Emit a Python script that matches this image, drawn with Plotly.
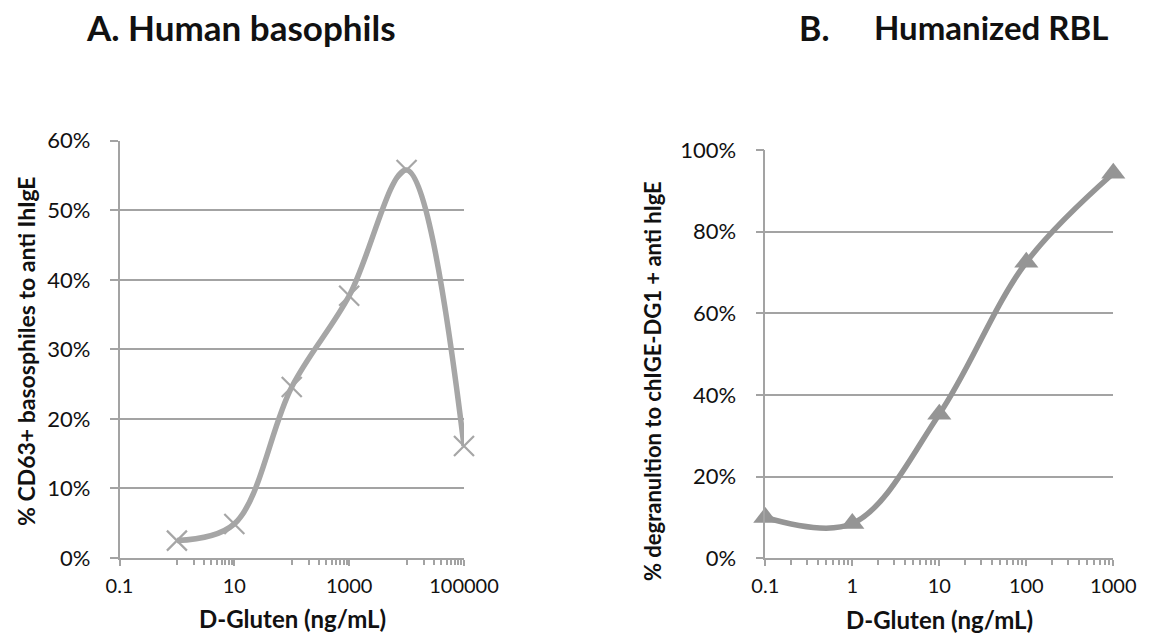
import plotly.graph_objects as go

# Panel A: human basophils, CD63+ response vs D-gluten dose
conc_a = [1, 10, 100, 1000, 10000, 100000]
cd63_a = [0.025, 0.049, 0.246, 0.377, 0.558, 0.161]
xticks_a = [0.1, 10, 1000, 100000]
xticklabels_a = ["0.1", "10", "1000", "100000"]

# Panel B: humanized RBL cells, degranulation vs D-gluten dose
conc_b = [0.1, 1, 10, 100, 1000]
degran_b = [0.100, 0.085, 0.353, 0.725, 0.943]
xticks_b = [0.1, 1, 10, 100, 1000]
xticklabels_b = ["0.1", "1", "10", "100", "1000"]

W, H = 1151, 636
FONT = "Lato"
TXT = "#111111"
GRID = "#a3a3a3"


def px_x(p):
    return p / W


def px_y(p):
    return 1 - p / H


fig = go.Figure()

fig.add_trace(go.Scatter(
    x=conc_a, y=cd63_a, mode="lines+markers", cliponaxis=False,
    line=dict(color="#a6a6a6", width=5.5, shape="spline", smoothing=1),
    marker=dict(symbol="x-thin-open", size=20,
                line=dict(color="#a6a6a6", width=2.2), color="#a6a6a6"),
    xaxis="x", yaxis="y", showlegend=False,
))

fig.add_trace(go.Scatter(
    x=conc_b, y=degran_b, mode="lines+markers", cliponaxis=False,
    line=dict(color="#959595", width=5.5, shape="spline", smoothing=1),
    marker=dict(symbol="triangle-up", size=21, color="#959595"),
    xaxis="x2", yaxis="y2", showlegend=False,
))

# minor ticks: 1..9 steps inside every other decade (A), 2..9 in each decade (B)
minor_a = [k * 10 ** d for d in (0, 2, 4) for k in range(1, 10)]
minor_b = [k * 10 ** d for d in range(-1, 3) for k in range(2, 10)]

common_x = dict(
    type="log", showgrid=False, zeroline=False, automargin=False,
    showline=True, linecolor=GRID, linewidth=1.5,
    ticks="outside", ticklen=6, tickcolor=GRID, tickwidth=1.5,
    tickfont=dict(family=FONT, size=20, color=TXT),
    ticklabelstandoff=3,
)
common_y = dict(
    showgrid=True, gridcolor=GRID, gridwidth=1.5, zeroline=False, automargin=False,
    showline=True, linecolor=GRID, linewidth=1.5,
    ticks="outside", ticklen=8, tickcolor=GRID, tickwidth=1.5,
    tickformat=".0%",
    tickfont=dict(family=FONT, size=22, color=TXT),
    ticklabelstandoff=15,
)

fig.update_layout(
    width=W, height=H, autosize=False,
    margin=dict(l=0, r=0, t=0, b=0, pad=0, autoexpand=False),
    paper_bgcolor="white", plot_bgcolor="white",
    xaxis=dict(common_x, domain=[px_x(119.5), px_x(464)],
               range=[-1, 5], anchor="y",
               tickmode="array", tickvals=xticks_a, ticktext=xticklabels_a,
               minor=dict(tickmode="array", tickvals=minor_a, ticks="outside",
                          ticklen=5, tickcolor=GRID, tickwidth=1.5, showgrid=False)),
    yaxis=dict(common_y, domain=[px_y(558), px_y(140.7)],
               range=[0, 0.6], dtick=0.1, anchor="x"),
    xaxis2=dict(common_x, domain=[px_x(765.3), px_x(1113.3)],
                range=[-1, 3], anchor="y2",
                tickmode="array", tickvals=xticks_b, ticktext=xticklabels_b,
                minor=dict(tickmode="array", tickvals=minor_b, ticks="outside",
                           ticklen=5, tickcolor=GRID, tickwidth=1.5, showgrid=False)),
    yaxis2=dict(common_y, domain=[px_y(558.3), px_y(150)],
                range=[0, 1.0], dtick=0.2, anchor="x2"),
)

bold = dict(family=FONT, color=TXT)
annots = [
    dict(text="<b>A. Human basophils</b>", x=px_x(241), y=px_y(27),
         font=dict(bold, size=35), xanchor="center", yanchor="middle"),
    dict(text="<b>B.</b>", x=px_x(797), y=px_y(27),
         font=dict(bold, size=34), xanchor="left", yanchor="middle"),
    dict(text="<b>Humanized RBL</b>", x=px_x(872), y=px_y(27),
         font=dict(bold, size=33), xanchor="left", yanchor="middle"),
    dict(text="<b>D-Gluten (ng/mL)</b>", x=px_x(292.5), y=px_y(618),
         font=dict(bold, size=24), xanchor="center", yanchor="middle"),
    dict(text="<b>D-Gluten (ng/mL)</b>", x=px_x(939), y=px_y(619),
         font=dict(bold, size=24), xanchor="center", yanchor="middle"),
    dict(text="<b>% CD63+ basosphiles to anti IhIgE</b>", x=px_x(26), y=px_y(351),
         font=dict(bold, size=23), textangle=-90, xanchor="center", yanchor="middle"),
    dict(text="<b>% degranultion to chIGE-DG1 + anti hIgE</b>", x=px_x(652), y=px_y(381),
         font=dict(bold, size=22), textangle=-90, xanchor="center", yanchor="middle"),
]
for a in annots:
    a.update(xref="paper", yref="paper", showarrow=False)
fig.update_layout(annotations=annots)

fig.write_html("out.html")
